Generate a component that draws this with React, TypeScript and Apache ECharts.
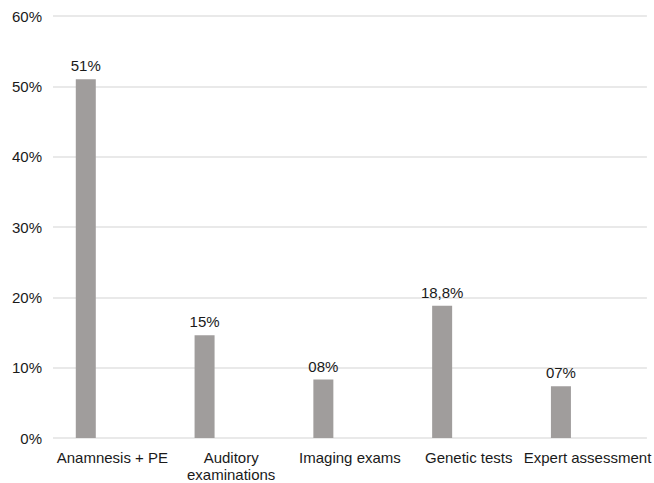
import React, { useEffect, useRef } from "react";
import * as echarts from "echarts";

const categories = ["Anamnesis + PE", "Auditory examinations", "Imaging exams", "Genetic tests", "Expert assessment"];
const values = [51, 14.6, 8.3, 18.8, 7.35];
const valueLabels = ["51%", "15%", "08%", "18,8%", "07%"];
const categoryLabels = ["Anamnesis + PE", "Auditory\nexaminations", "Imaging exams", "Genetic tests", "Expert assessment"];

export default function App() {
  const ref = useRef<HTMLDivElement>(null);
  useEffect(() => {
    if (!ref.current) return;
    const chart = echarts.init(ref.current, null, { renderer: "svg" });
    const font = "'Liberation Sans', Arial, Helvetica, sans-serif";
    chart.setOption({
      animation: false,
      textStyle: { fontFamily: font },
      grid: { left: 53, right: 4, top: 16, bottom: 40, containLabel: false },
      xAxis: {
        type: "category",
        data: categories,
        axisLine: { show: false },
        axisTick: { show: false },
        axisLabel: {
          interval: 0,
          color: "#1a1a1a",
          fontSize: 15,
          fontFamily: font,
          margin: 11,
          lineHeight: 17,
          formatter: (_v: string, i: number) => categoryLabels[i],
        },
      },
      yAxis: {
        type: "value",
        min: 0,
        max: 60,
        interval: 10,
        axisLine: { show: false },
        axisTick: { show: false },
        splitLine: { lineStyle: { color: "#e2e2e2", width: 1.5 } },
        axisLabel: { color: "#1a1a1a", fontSize: 15, fontFamily: font, margin: 11, formatter: "{value}%" },
      },
      series: [
        {
          type: "bar",
          data: values,
          barWidth: 20,
          barGap: "33%",
          itemStyle: { color: "#a09d9c" },
          label: {
            show: true,
            position: "top",
            distance: 6,
            color: "#1a1a1a",
            fontSize: 15,
            fontFamily: font,
            formatter: (p: any) => valueLabels[p.dataIndex],
          },
        },
        { type: "bar", data: [], barWidth: 20 },
        { type: "bar", data: [], barWidth: 20 },
      ],
    });
    return () => chart.dispose();
  }, []);
  return <div ref={ref} style={{ width: 654, height: 483, position: "absolute", left: 0, top: 0 }} />;
}
